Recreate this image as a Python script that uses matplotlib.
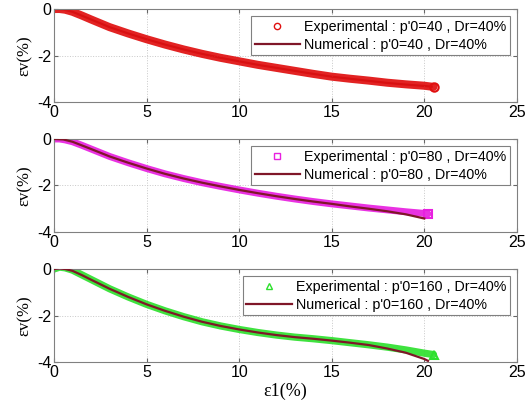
import matplotlib
matplotlib.use("Agg")
import matplotlib.pyplot as plt
from matplotlib.lines import Line2D

plt.rcParams["font.family"] = ["Liberation Sans", "DejaVu Sans"]
plt.rcParams["axes.unicode_minus"] = False

# volumetric strain vs axial strain, three confining pressures
x_exp_40 = [0, 0.3, 0.6, 1, 1.5, 2, 3, 4, 5, 6, 7, 8, 9, 10, 11, 12, 13, 14, 15, 16, 17, 18, 19, 20, 20.5]
y_exp_40 = [0, 0, -0.03, -0.12, -0.28, -0.45, -0.78, -1.05, -1.3, -1.53, -1.74, -1.93, -2.1, -2.25,
            -2.4, -2.53, -2.66, -2.79, -2.91, -3.0, -3.08, -3.17, -3.24, -3.3, -3.35]
x_num_40 = [0, 0.5, 1, 2, 3, 4, 5, 6, 7, 8, 9, 10, 11, 12, 13, 14, 15, 16, 17, 18, 19, 20, 20.4]
y_num_40 = [0, -0.02, -0.12, -0.45, -0.78, -1.05, -1.3, -1.53, -1.74, -1.93, -2.1, -2.25,
            -2.4, -2.53, -2.66, -2.79, -2.91, -3.0, -3.09, -3.18, -3.25, -3.31, -3.34]

x_exp_80 = [0, 0.3, 0.6, 1, 1.5, 2, 3, 4, 5, 6, 7, 8, 9, 10, 11, 12, 13, 14, 15, 16, 17, 18, 19, 20, 20.2]
y_exp_80 = [0, 0, -0.04, -0.12, -0.27, -0.43, -0.75, -1.02, -1.27, -1.5, -1.7, -1.88, -2.04, -2.19,
            -2.33, -2.46, -2.58, -2.69, -2.79, -2.88, -2.97, -3.05, -3.13, -3.2, -3.22]
x_num_80 = [0, 0.5, 1, 2, 3, 4, 5, 6, 7, 8, 9, 10, 11, 12, 13, 14, 15, 16, 17, 18, 19, 20]
y_num_80 = [0, -0.02, -0.12, -0.43, -0.75, -1.02, -1.27, -1.5, -1.7, -1.88, -2.04, -2.19,
            -2.33, -2.46, -2.58, -2.69, -2.79, -2.9, -3.0, -3.11, -3.24, -3.42]

x_exp_160 = [0, 0.3, 0.6, 1, 1.5, 2, 3, 4, 5, 6, 7, 8, 9, 10, 11, 12, 13, 14, 15, 16, 17, 18, 19, 20, 20.5]
y_exp_160 = [0, 0.08, 0.05, -0.05, -0.25, -0.45, -0.85, -1.2, -1.52, -1.8, -2.05, -2.27, -2.45, -2.6,
             -2.73, -2.84, -2.93, -3.0, -3.08, -3.17, -3.26, -3.36, -3.48, -3.62, -3.68]
x_num_160 = [0, 0.3, 0.6, 1, 1.5, 2, 3, 4, 5, 6, 7, 8, 9, 10, 11, 12, 13, 14, 15, 16, 17, 18, 19, 20, 20.2]
y_num_160 = [0, 0.03, 0.0, -0.08, -0.26, -0.46, -0.85, -1.2, -1.52, -1.8, -2.05, -2.27, -2.45, -2.6,
             -2.73, -2.84, -2.93, -3.0, -3.08, -3.17, -3.27, -3.42, -3.6, -3.87, -3.95]

pressures = ["40", "80", "160"]
exp_x = [x_exp_40, x_exp_80, x_exp_160]
exp_y = [y_exp_40, y_exp_80, y_exp_160]
num_x = [x_num_40, x_num_80, x_num_160]
num_y = [y_num_40, y_num_80, y_num_160]

exp_colors = ["#e01010", "#e820e0", "#2ee02e"]
band_widths = [5.8, 5.0, 5.2]
markers = ["o", "s", "^"]
num_color = "#7f1628"
num_on_top = [False, True, True]

x_ticks = [0, 5, 10, 15, 20, 25]
y_ticks = [-4, -2, 0]

fig = plt.figure(figsize=(5.32, 4.09), dpi=100)
bottoms = [0.7506, 0.4328, 0.1149]

for i in range(3):
    ax = fig.add_axes([0.1015, bottoms[i], 0.870, 0.2274])
    c = exp_colors[i]
    z_num = 4 if num_on_top[i] else 1
    # dense measured points merge into a thick band
    ax.plot(exp_x[i], exp_y[i], color=c, lw=band_widths[i], solid_capstyle="round",
            solid_joinstyle="round", zorder=2, alpha=0.92)
    ax.plot(exp_x[i][-1:], exp_y[i][-1:], ls="none", marker=markers[i], ms=6,
            mfc="none", mec=c, mew=1.5, zorder=2)
    ax.plot(num_x[i], num_y[i], color=num_color, lw=1.6, zorder=z_num)

    ax.set_xlim(0, 25)
    ax.set_ylim(-4, 0)
    ax.set_xticks(x_ticks)
    ax.set_yticks(y_ticks)
    ax.tick_params(direction="in", length=3, labelsize=11.5, top=True, right=True,
                   color="#666666", pad=2)
    for s in ax.spines.values():
        s.set_color("#808080")
        s.set_linewidth(0.8)
    ax.grid(True, ls=":", color="#c8c8c8", lw=0.7)
    ax.set_ylabel("εv(%)", family="Liberation Serif", fontsize=12, labelpad=3)

    handles = [
        Line2D([], [], ls="none", marker=markers[i], ms=4.5, mfc="none", mec=c, mew=1.0),
        Line2D([], [], color=num_color, lw=1.6),
    ]
    labels = ["Experimental : p'0=%s , Dr=40%%" % pressures[i],
              "Numerical : p'0=%s , Dr=40%%" % pressures[i]]
    leg = ax.legend(handles, labels, loc="upper right", fontsize=10.3, handlelength=3.2,
                    handletextpad=0.25, borderpad=0.25, labelspacing=0.28,
                    fancybox=False, framealpha=1, borderaxespad=0.5)
    leg.get_frame().set_edgecolor("#808080")
    leg.get_frame().set_linewidth(0.8)
    if i == 2:
        ax.set_xlabel("ε1(%)", family="Liberation Serif", fontsize=13, labelpad=2)

fig.savefig("out.png", dpi=100)
